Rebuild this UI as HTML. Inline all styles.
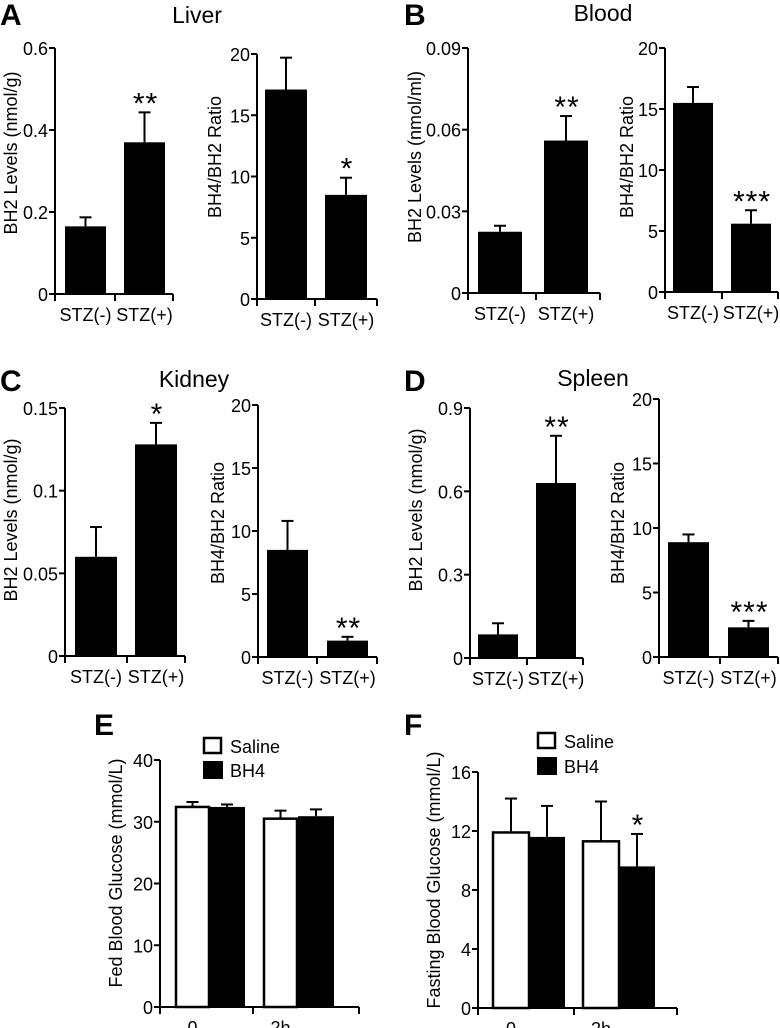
<!DOCTYPE html>
<html><head><meta charset="utf-8"><style>
body{margin:0;background:#fff}
svg{display:block;font-family:"Liberation Sans",Arial,sans-serif}
</style></head><body>
<svg id="fig" width="780" height="1028" viewBox="0 0 780 1028"></svg>
<script>
const catsTop=["STZ(-)","STZ(+)"];
const catsTime=["0","2h"];
const aBH2=[0.165,0.37], aBH2Err=[0.022,0.073];
const aRatio=[17.1,8.5], aRatioErr=[2.6,1.4];
const bBH2=[0.0225,0.056], bBH2Err=[0.0022,0.009];
const bRatio=[15.5,5.6], bRatioErr=[1.3,1.1];
const cBH2=[0.06,0.128], cBH2Err=[0.018,0.013];
const cRatio=[8.5,1.3], cRatioErr=[2.3,0.3];
const dBH2=[0.085,0.63], dBH2Err=[0.04,0.17];
const dRatio=[8.9,2.3], dRatioErr=[0.6,0.5];
const eSaline=[32.4,30.5], eSalineErr=[0.8,1.3];
const eBH4=[32.4,30.9], eBH4Err=[0.4,1.1];
const fSaline=[11.9,11.3], fSalineErr=[2.3,2.7];
const fBH4=[11.6,9.6], fBH4Err=[2.1,2.2];
const ticksA1=["0","0.2","0.4","0.6"], ticksRatio=["0","5","10","15","20"];
const ticksB1=["0","0.03","0.06","0.09"], ticksC1=["0","0.05","0.1","0.15"];
const ticksD1=["0","0.3","0.6","0.9"], ticksE=["0","10","20","30","40"], ticksF=["0","4","8","12","16"];
const starsA1=["","**"],starsA2=["","*"],starsB1=["","**"],starsB2=["","***"];
const starsC1=["","*"],starsC2=["","**"],starsD1=["","**"],starsD2=["","***"];
const starsF=["",""],starsFB=["","*"];

const svg=document.getElementById('fig');
const NS='http://www.w3.org/2000/svg';
function mk(tag,at,txt){const e=document.createElementNS(NS,tag);for(const k in at)e.setAttribute(k,at[k]);if(txt!==undefined)e.textContent=txt;svg.appendChild(e);return e;}

function axes(p){
  const ys=v=>p.y0-(v/p.max)*(p.y0-p.yt);
  let e=mk('line',{x1:p.ax,y1:p.yt,x2:p.ax,y2:p.y0+1,stroke:'#000','stroke-width':2});
  
  e=mk('line',{x1:p.ax-1,y1:p.y0,x2:p.xe,y2:p.y0,stroke:'#000','stroke-width':2});
  
  [p.ax,p.xm,p.xe].forEach(x=>mk('line',{x1:x,y1:p.y0,x2:x,y2:p.y0+7,stroke:'#000','stroke-width':2}));
  p.ticks.forEach(t=>{const y=ys(parseFloat(t));
    mk('line',{x1:p.ax-6,y1:y,x2:p.ax,y2:y,stroke:'#000','stroke-width':2});
    e=mk('text',{x:p.ax-7,y:y+7,'text-anchor':'end','font-size':18},t);
    });
  e=mk('text',{transform:`translate(${p.tx},${p.tc}) rotate(-90)`,'text-anchor':'middle','font-size':p.tfs||18},p.title);
  
  return ys;
}
function bars(p,ys,vals,errs,xs,w,fill,stars,cats){
  vals.forEach((v,i)=>{const x=xs[i],y=ys(v),ye=ys(v+errs[i]);
    let e=mk('rect',{x:x,y:y,width:w,height:p.y0-y,fill:fill,stroke:'#000','stroke-width':fill==='#fff'?2.5:0});
    
    mk('line',{x1:x+w/2,y1:y,x2:x+w/2,y2:ye,stroke:'#000','stroke-width':2});
    mk('line',{x1:x+w/2-6,y1:ye,x2:x+w/2+6,y2:ye,stroke:'#000','stroke-width':2});
    if(stars&&stars[i]){e=mk('text',{x:x+w/2+1,y:ye+1,'text-anchor':'middle','font-size':30,'letter-spacing':1},stars[i]);
      }
    if(cats){e=mk('text',{x:x+w/2,y:p.y0+27,'text-anchor':'middle','font-size':18},cats[i]);
      }
  });
}
function panel(p,vals,errs,stars){const ys=axes(p);bars(p,ys,vals,errs,p.bx,p.bw,'#000',stars,catsTop);}

panel({id:'a-bh2',ax:55,y0:294,yt:48,max:0.6,xm:115,xe:173,ticks:ticksA1,title:'BH2 Levels (nmol/g)',tx:17,tc:153,bx:[65,124],bw:41},aBH2,aBH2Err,starsA1);
panel({id:'a-ratio',ax:257,y0:299,yt:54,max:20,xm:315,xe:377,ticks:ticksRatio,title:'BH4/BH2 Ratio',tx:221,tc:157,bx:[265,325],bw:42},aRatio,aRatioErr,starsA2);
panel({id:'b-bh2',ax:468,y0:293,yt:48,max:0.09,xm:536,xe:600,ticks:ticksB1,title:'BH2 Levels (nmol/ml)',tx:421,tc:157,bx:[478,544],bw:44},bBH2,bBH2Err,starsB1);
panel({id:'b-ratio',ax:665,y0:292,yt:48,max:20,xm:722,xe:778,ticks:ticksRatio,title:'BH4/BH2 Ratio',tx:633,tc:157,bx:[673,731],bw:40},bRatio,bRatioErr,starsB2);
panel({id:'c-bh2',ax:65,y0:656,yt:408,max:0.15,xm:127,xe:185,ticks:ticksC1,title:'BH2 Levels (nmol/g)',tx:17,tc:520,bx:[75,135],bw:42},cBH2,cBH2Err,starsC1);
panel({id:'c-ratio',ax:258,y0:657,yt:405,max:20,xm:317,xe:377,ticks:ticksRatio,title:'BH4/BH2 Ratio',tx:224,tc:523,bx:[267,327],bw:41},cRatio,cRatioErr,starsC2);
panel({id:'d-bh2',ax:470,y0:658,yt:408,max:0.9,xm:527,xe:583,ticks:ticksD1,title:'BH2 Levels (nmol/g)',tx:422,tc:510,bx:[478,536],bw:40},dBH2,dBH2Err,starsD1);
panel({id:'d-ratio',ax:659,y0:657,yt:399,max:20,xm:720,xe:778,ticks:ticksRatio,title:'BH4/BH2 Ratio',tx:624,tc:523,bx:[668,728],bw:41},dRatio,dRatioErr,starsD2);

const pe={id:'e',ax:160,y0:1007,yt:760,max:40,xm:253,xe:359,ticks:ticksE,title:'Fed Blood Glucose  (mmol/L)',tx:122,tc:873,tfs:18};
let ys=axes(pe);
bars(pe,ys,eSaline,eSalineErr,[176,264],33,'#fff',null,catsTime);
bars(pe,ys,eBH4,eBH4Err,[209,298],36,'#000',null,null);
const pf={id:'f',ax:478,y0:1008,yt:772,max:16,xm:574,xe:677,ticks:ticksF,title:'Fasting Blood Glucose  (mmol/L)',tx:440,tc:880,tfs:18};
ys=axes(pf);
bars(pf,ys,fSaline,fSalineErr,[493,583],36,'#fff',starsF,catsTime);
bars(pf,ys,fBH4,fBH4Err,[529,619],36,'#000',starsFB,null);

function legend(x,ys1,ys2,id){
  let e=mk('rect',{x:x,y:ys1,width:17,height:15,fill:'#fff',stroke:'#000','stroke-width':2.5});
  
  e=mk('text',{x:x+26,y:ys1+15,'font-size':18},'Saline');
  
  e=mk('rect',{x:x-1,y:ys2,width:20,height:18,fill:'#000'});
  
  e=mk('text',{x:x+26,y:ys2+16,'font-size':18},'BH4');
  
}
legend(204,738,761,'e');legend(538,733,757,'f');

[['A',0,25],['B',404,25],['C',0,391],['D',404,391],['E',94,735],['F',404,735]].forEach(l=>{
  const e=mk('text',{x:l[1],y:l[2],'font-size':30,'font-weight':'bold'},l[0]);
  });
[['Liver',197,23],['Blood',603,21],['Kidney',194,387],['Spleen',593,386]].forEach(t=>{
  const e=mk('text',{x:t[1],y:t[2],'font-size':23,'text-anchor':'middle'},t[0]);
  });
</script>
</body></html>
